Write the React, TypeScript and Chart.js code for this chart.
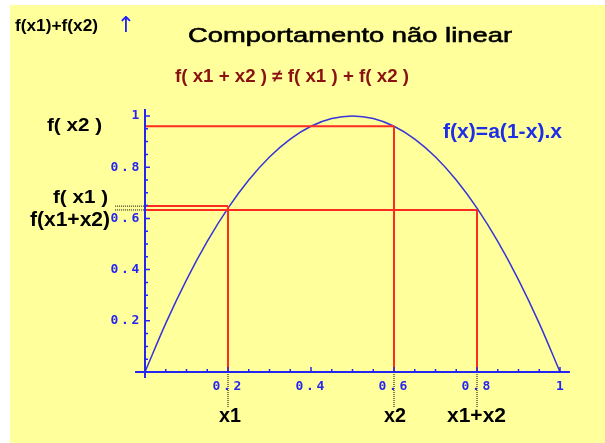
import React, { useEffect, useRef } from "react";
import { Chart, registerables } from "chart.js";

Chart.register(...registerables);

// ---- data ----
const curveX = [0, 0.05, 0.1, 0.15, 0.2, 0.25, 0.3, 0.35, 0.4, 0.45, 0.5, 0.55, 0.6, 0.65, 0.7, 0.75, 0.8, 0.85, 0.9, 0.95, 1];
const curveY = [0, 0.19, 0.36, 0.51, 0.64, 0.75, 0.84, 0.91, 0.96, 0.99, 1, 0.99, 0.96, 0.91, 0.84, 0.75, 0.64, 0.51, 0.36, 0.19, 0];

const xMarks = [0.2, 0.6, 0.8]; // x1, x2, x1+x2
const yMarks = [0.648, 0.96, 0.633]; // f(x1), f(x2), f(x1+x2) as drawn
const xMarkNames = ["x1", "x2", "x1+x2"];

const majorTicks = [0.2, 0.4, 0.6, 0.8, 1];
const tickLabels = ["0.2", "0.4", "0.6", "0.8", "1"];
const minorTicks = [0.05, 0.1, 0.15, 0.25, 0.3, 0.35, 0.45, 0.5, 0.55, 0.65, 0.7, 0.75, 0.85, 0.9, 0.95];

const dotLeft = -0.072; // where the dotted leaders start, x value
const dotBottom = -0.137; // where the dotted leaders end, y value

const TITLE = "Comportamento não linear";
const SUBTITLE = "f( x1 + x2 ) ≠ f( x1 ) + f( x2 )";
const FORMULA = "f(x)=a(1-x).x";
const YAXIS_NAME = "f(x1)+f(x2)";

const BG = "#FFFF9C";
const AXIS = "#2626F0";
const CURVE = "#3535D8";
const RED = "#FF2A22";

// draws text stretched horizontally so that it spans [left, right]
function fitText(ctx: CanvasRenderingContext2D, text: string, left: number, right: number, baseline: number, stroke = 0) {
  const w = ctx.measureText(text).width;
  const sx = (right - left) / w;
  ctx.save();
  ctx.textAlign = "left";
  ctx.textBaseline = "alphabetic";
  ctx.translate(left, baseline);
  ctx.scale(sx, 1);
  ctx.fillText(text, 0, 0);
  if (stroke > 0) {
    ctx.strokeStyle = ctx.fillStyle as string;
    ctx.lineWidth = stroke;
    ctx.strokeText(text, 0, 0);
  }
  ctx.restore();
}

function spacedLabel(ctx: CanvasRenderingContext2D, text: string, lastCenter: number, cy: number, pitch: number) {
  const n = text.length;
  ctx.textAlign = "center";
  ctx.textBaseline = "middle";
  for (let i = 0; i < n; i++) {
    ctx.fillText(text[i], lastCenter - (n - 1 - i) * pitch, cy);
  }
}

const bgPlugin = {
  id: "bgPlugin",
  beforeDraw(chart: any) {
    const { ctx, width, height } = chart;
    ctx.save();
    ctx.fillStyle = "#FFFFFF";
    ctx.fillRect(0, 0, width, height);
    ctx.fillStyle = BG;
    ctx.fillRect(10, 5, width - 10, height - 5);
    ctx.restore();
  },
};

const axesPlugin = {
  id: "axesPlugin",
  afterDatasetsDraw(chart: any) {
    const { ctx } = chart;
    const xs = chart.scales.x;
    const ys = chart.scales.y;
    const x0 = xs.getPixelForValue(0);
    const y0 = ys.getPixelForValue(0);
    ctx.save();
    ctx.strokeStyle = AXIS;
    ctx.lineWidth = 2;
    ctx.beginPath();
    ctx.moveTo(xs.getPixelForValue(-0.024), y0);
    ctx.lineTo(xs.getPixelForValue(1.024), y0);
    ctx.moveTo(x0, ys.getPixelForValue(-0.023));
    ctx.lineTo(x0, ys.getPixelForValue(1.027));
    ctx.stroke();
    ctx.lineWidth = 1.5;
    ctx.beginPath();
    minorTicks.forEach((v) => {
      const px = xs.getPixelForValue(v);
      ctx.moveTo(px, y0);
      ctx.lineTo(px, y0 - 3);
      const py = ys.getPixelForValue(v);
      ctx.moveTo(x0, py);
      ctx.lineTo(x0 + 3, py);
    });
    majorTicks.forEach((v) => {
      const px = xs.getPixelForValue(v);
      ctx.moveTo(px, y0);
      ctx.lineTo(px, y0 - 5);
      const py = ys.getPixelForValue(v);
      ctx.moveTo(x0, py);
      ctx.lineTo(x0 + 5, py);
    });
    ctx.stroke();
    ctx.fillStyle = AXIS;
    ctx.font = 'bold 13px "DejaVu Sans Mono"';
    majorTicks.forEach((v, i) => {
      const t = tickLabels[i];
      const px = xs.getPixelForValue(v);
      const n = t.length;
      const lastCenter = n > 1 ? px + 9.5 : px;
      spacedLabel(ctx, t, lastCenter, y0 + 15, 10.5);
      const py = ys.getPixelForValue(v);
      spacedLabel(ctx, t, x0 - 9.5, py, 10.5);
    });
    ctx.restore();
  },
};

const textPlugin = {
  id: "textPlugin",
  afterDraw(chart: any) {
    const { ctx } = chart;
    ctx.save();
    ctx.fillStyle = "#000000";
    ctx.font = 'bold 16px "Liberation Sans"';
    fitText(ctx, YAXIS_NAME, 15, 98, 31);
    ctx.fillStyle = "#2020FF";
    ctx.font = '22px "DejaVu Sans"';
    ctx.textAlign = "center";
    ctx.textBaseline = "middle";
    ctx.fillText("↑", 126, 26);

    ctx.fillStyle = "#000000";
    ctx.font = '21px "Liberation Sans"';
    fitText(ctx, TITLE, 188, 512, 42, 0.6);

    ctx.fillStyle = "#8A1212";
    ctx.font = 'bold 18px "Liberation Sans"';
    fitText(ctx, SUBTITLE, 175, 409, 82);

    ctx.fillStyle = "#000000";
    ctx.font = 'bold 18px "Liberation Sans"';
    fitText(ctx, "f( x2 )", 47, 102, 131);
    fitText(ctx, "f( x1 )", 53, 108, 203);
    ctx.font = 'bold 20px "Liberation Sans"';
    fitText(ctx, "f(x1+x2)", 30, 110, 226);

    ctx.fillStyle = "#1E2EE6";
    ctx.font = 'bold 20px "Liberation Sans"';
    fitText(ctx, FORMULA, 443, 562, 138);

    ctx.fillStyle = "#000000";
    ctx.font = 'bold 21px "Liberation Sans"';
    fitText(ctx, xMarkNames[0], 219, 241, 422);
    fitText(ctx, xMarkNames[1], 384, 406, 422);
    fitText(ctx, xMarkNames[2], 447, 506, 422);
    ctx.restore();
  },
};

export default function App() {
  const ref = useRef<HTMLCanvasElement | null>(null);
  useEffect(() => {
    document.body.style.margin = "0";
    const canvas = ref.current;
    if (!canvas) return;
    const redLine = (pts: { x: number; y: number }[]) => ({
      data: pts,
      borderColor: RED,
      borderWidth: 2,
      pointRadius: 0,
      tension: 0,
      clip: false as any,
    });
    const dotLine = (pts: { x: number; y: number }[]) => ({
      data: pts,
      borderColor: "#000000",
      borderWidth: 1,
      borderDash: [1, 1],
      pointRadius: 0,
      tension: 0,
      clip: false as any,
    });
    const datasets: any[] = [];
    // red construction lines
    datasets.push(redLine([{ x: xMarks[0], y: 0 }, { x: xMarks[0], y: yMarks[0] }]));
    datasets.push(redLine([{ x: 0, y: yMarks[0] }, { x: xMarks[0], y: yMarks[0] }]));
    datasets.push(redLine([{ x: xMarks[1], y: 0 }, { x: xMarks[1], y: yMarks[1] }]));
    datasets.push(redLine([{ x: 0, y: yMarks[1] }, { x: xMarks[1], y: yMarks[1] }]));
    datasets.push(redLine([{ x: xMarks[2], y: 0 }, { x: xMarks[2], y: yMarks[2] }]));
    datasets.push(redLine([{ x: 0, y: yMarks[2] }, { x: xMarks[2], y: yMarks[2] }]));
    // dotted leaders
    datasets.push(dotLine([{ x: dotLeft, y: yMarks[0] }, { x: 0, y: yMarks[0] }]));
    datasets.push(dotLine([{ x: dotLeft, y: yMarks[2] }, { x: 0, y: yMarks[2] }]));
    xMarks.forEach((v) => datasets.push(dotLine([{ x: v, y: 0 }, { x: v, y: dotBottom }])));
    // curve
    datasets.push({
      data: curveX.map((x, i) => ({ x, y: curveY[i] })),
      borderColor: CURVE,
      borderWidth: 1.5,
      pointRadius: 0,
      tension: 0.35,
      clip: false as any,
    });

    const chart = new Chart(canvas, {
      type: "line",
      data: { datasets },
      options: {
        animation: false,
        responsive: false,
        events: [],
        layout: { padding: { left: 145, right: 45, top: 116, bottom: 71 } },
        plugins: { legend: { display: false }, tooltip: { enabled: false }, title: { display: false } },
        scales: {
          x: { type: "linear", min: 0, max: 1, display: false },
          y: { type: "linear", min: 0, max: 1, display: false },
        },
      },
      plugins: [bgPlugin, axesPlugin, textPlugin],
    });
    return () => chart.destroy();
  }, []);
  return (
    <div style={{ width: 605, height: 443 }}>
      <canvas ref={ref} width={605} height={443} style={{ display: "block", width: 605, height: 443 }} />
    </div>
  );
}
